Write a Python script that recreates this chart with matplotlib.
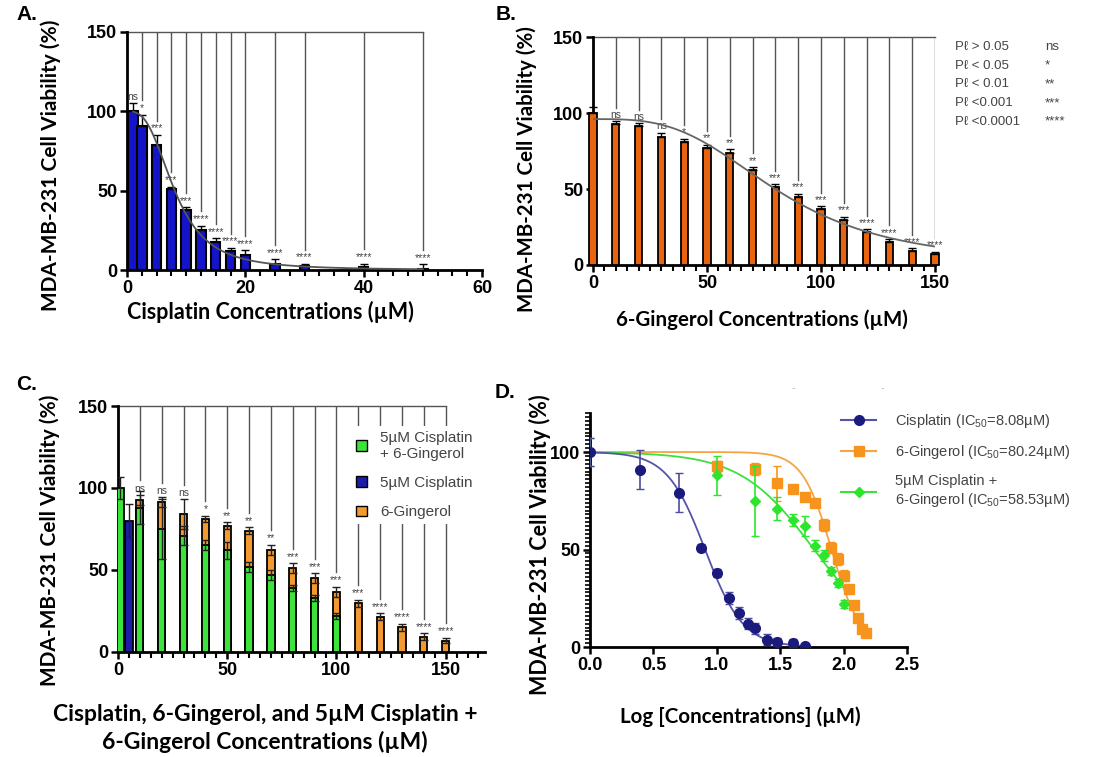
import numpy as np
import matplotlib.pyplot as plt
from matplotlib.patches import Patch
from matplotlib.lines import Line2D
from matplotlib.ticker import MultipleLocator, FormatStrFormatter

plt.rcParams['font.family'] = ['Liberation Sans', 'DejaVu Sans']
plt.rcParams['mathtext.default'] = 'regular'

# ---- data ----
# A: cisplatin
conc_cis = [1, 2.5, 5, 7.5, 10, 12.5, 15, 17.5, 20, 25, 30, 40, 50]
via_cis = [100, 91, 79, 51, 38, 25, 17.5, 12, 9.5, 3.8, 2.7, 2, 0.5]
err_cis_bar = [5, 7, 6, 1.5, 1.5, 3, 2.5, 2, 3, 3, 1, 2, 3]
err_cis_log = [7, 10, 10, 2, 2, 3, 3, 3, 3, 3, 2, 2, 1]
sig_cis = ['ns', '*', '***', '***', '***', '****', '****', '****', '****',
           '****', '****', '****', '****']

# B: 6-gingerol
conc_ging = [0, 10, 20, 30, 40, 50, 60, 70, 80, 90, 100, 110, 120, 130, 140, 150]
via_ging = [100, 92.6, 91.3, 84, 81, 77, 74, 62.4, 51, 45, 36.6, 29.6, 21.5, 15, 9.4, 7]
err_ging_bar = [4, 2, 2, 3, 2, 2, 2, 2, 2, 2, 2, 2, 2, 2, 1.5, 1.5]
err_ging_log = [3, 3, 3, 9, 2, 2, 2, 3, 3, 3, 3, 2, 2, 2, 2, 1.5]
sig_ging = ['', 'ns', 'ns', 'ns', '*', '**', '**', '**', '***', '***', '***',
            '***', '****', '****', '****', '****']

# C: 5 uM cisplatin + 6-gingerol
conc_comb = [1, 10, 20, 30, 40, 50, 60, 70, 80, 90, 100]
via_comb = [100, 88, 75, 71, 65, 62, 52, 47, 39, 33, 22]
err_comb = [7, 10, 18, 6, 3, 5, 3, 3, 2, 2, 2]
conc_cis5 = 5
via_cis5 = 80
err_cis5 = 10

# fit parameters (top, bottom, IC50, hill slope)
fit_cis = (100, 0, 8.08, 2.9)
fit_ging_lin = (96, 0, 82, 3.2)
fit_ging = (100, 0, 80.24, 3.8)
fit_comb = (100, 0, 58.53, 1.5)

pvals = ['P\u2113 > 0.05', 'P\u2113 < 0.05', 'P\u2113 < 0.01', 'P\u2113 <0.001', 'P\u2113 <0.0001']
pstars = ['ns', '*', '**', '***', '****']


def hill(x, p):
    top, bottom, ic50, h = p
    return bottom + (top - bottom) / (1 + (np.asarray(x) / ic50) ** h)


W, H = 1102, 757
fig = plt.figure(figsize=(W / 100, H / 100), dpi=100)


def box(x0, x1, yb, yt):
    return [x0 / W, 1 - yb / H, (x1 - x0) / W, (yb - yt) / H]


def lab_font(size=15):
    return dict(family=['Lato', 'DejaVu Sans'], fontweight='bold', fontsize=size)


def style(ax):
    for s in ['top', 'right']:
        ax.spines[s].set_visible(False)
    for s in ['left', 'bottom']:
        ax.spines[s].set_linewidth(2)
    ax.tick_params(which='major', length=5, width=1.8, labelsize=13, pad=2)
    ax.tick_params(which='minor', length=4, width=1.5)
    for lab in ax.get_xticklabels() + ax.get_yticklabels():
        lab.set_fontweight('bold')


def brackets(ax, xs, tops, labels, x_end, skip_first=False, fs=7.5):
    ax.plot([0, x_end], [150, 150], color='#555', lw=1, clip_on=False, zorder=1)
    for i, (x, t, lab) in enumerate(zip(xs, tops, labels)):
        if not lab:
            continue
        ax.text(x, t + 1, lab, ha='center', va='bottom', fontsize=fs, color='#444')
        if skip_first and i == 0:
            continue
        ax.plot([x, x], [t + 9, 150], color='#555', lw=1, zorder=1)


# ---------------- A ----------------
ax1 = fig.add_axes(box(127, 482, 270, 32))
ax1.bar(conc_cis, via_cis, width=1.6, color='#1414C8', edgecolor='black', lw=1.5, zorder=3)
ax1.errorbar(conc_cis, via_cis, yerr=[np.zeros(len(err_cis_bar)), err_cis_bar], fmt='none',
             ecolor='black', elinewidth=1, capsize=3, zorder=4)
xa = np.linspace(1, 50, 300)
ax1.plot(xa, hill(xa, fit_cis), color='#555', lw=1.3, zorder=5)
brackets(ax1, conc_cis, np.array(via_cis) + np.array(err_cis_bar), sig_cis, 50, skip_first=True)
ax1.set_xlim(0, 60)
ax1.set_ylim(0, 150)
ax1.set_xticks([0, 20, 40, 60])
ax1.set_yticks([0, 50, 100, 150])
ax1.xaxis.set_minor_locator(MultipleLocator(2.5))
style(ax1)
ax1.set_ylabel('MDA-MB-231 Cell Viability (%)', va='center', **lab_font())
ax1.yaxis.set_label_coords(-0.215, 0.44)
ax1.set_xlabel('Cisplatin Concentrations (\u00b5M)', va='center', **lab_font(15.5))
ax1.xaxis.set_label_coords(0.405, -0.175)

# ---------------- B ----------------
ax2 = fig.add_axes(box(593, 935, 265, 37))
ax2.bar(conc_ging, via_ging, width=3.2, color='#E8640E', edgecolor='black', lw=1.3, zorder=3,
        clip_on=False)
ax2.errorbar(conc_ging, via_ging, yerr=[np.zeros(len(err_ging_bar)), err_ging_bar], fmt='none',
             ecolor='black', elinewidth=1, capsize=3, zorder=4, clip_on=False)
xb = np.linspace(0, 150, 300)
ax2.plot(xb, hill(xb, fit_ging_lin), color='#666', lw=1.3, zorder=5)
brackets(ax2, conc_ging, np.array(via_ging) + np.array(err_ging_bar), sig_ging, 150)
ax2.set_xlim(0, 150)
ax2.set_ylim(0, 150)
ax2.set_xticks([0, 50, 100, 150])
ax2.set_yticks([0, 50, 100, 150])
ax2.xaxis.set_minor_locator(MultipleLocator(5))
style(ax2)
ax2.set_ylabel('MDA-MB-231 Cell Viability (%)', va='center', **lab_font(14.8))
ax2.yaxis.set_label_coords(-0.193, 0.42)
ax2.set_xlabel('6-Gingerol Concentrations (\u00b5M)', va='center', **lab_font(14.8))
ax2.xaxis.set_label_coords(0.494, -0.24)

for i, (pv, ps) in enumerate(zip(pvals, pstars)):
    y = 1 - (47 + i * 18.7) / H
    fig.text(955 / W, y, pv, fontsize=9.5, color='#444', va='center')
    fig.text(1045 / W, y, ps, fontsize=9.5, color='#444', va='center')

# ---------------- C ----------------
ax3 = fig.add_axes(box(118, 485, 652, 406))
ax3.bar(conc_ging[1:], via_ging[1:], width=3.3, color='#F29A30', edgecolor='black', lw=1.3, zorder=3)
ax3.errorbar(conc_ging[1:], via_ging[1:], yerr=err_ging_log[1:], fmt='none',
             ecolor='#222', elinewidth=1, capsize=3, zorder=4)
ax3.bar(conc_comb, via_comb, width=3.3, color='#3BE33B', edgecolor='black', lw=1.3, zorder=5)
ax3.errorbar(conc_comb, via_comb, yerr=err_comb, fmt='none',
             ecolor='#222', elinewidth=1, capsize=3, zorder=6)
ax3.bar([conc_cis5], [via_cis5], width=3.3, color='#1C1CA8', edgecolor='black', lw=1.3, zorder=5)
ax3.errorbar([conc_cis5], [via_cis5], yerr=[err_cis5], fmt='none',
             ecolor='#222', elinewidth=1, capsize=3, zorder=6)
tops_c = np.array(via_ging[1:]) + np.array(err_ging_log[1:])
brackets(ax3, conc_ging[1:], tops_c, sig_ging[1:], 150)
ax3.set_xlim(0, 168)
ax3.set_ylim(0, 150)
ax3.set_xticks([0, 50, 100, 150])
ax3.set_yticks([0, 50, 100, 150])
ax3.xaxis.set_minor_locator(MultipleLocator(5))
style(ax3)
ax3.set_ylabel('MDA-MB-231 Cell Viability (%)', va='center', **lab_font())
ax3.yaxis.set_label_coords(-0.185, 0.455)
ax3.set_xlabel('Cisplatin, 6-Gingerol, and 5\u00b5M Cisplatin +\n6-Gingerol Concentrations (\u00b5M)',
               va='center', linespacing=1.35, **lab_font(16.5))
ax3.xaxis.set_label_coords(0.40, -0.31)
handles_c = [Patch(facecolor='#3BE33B', edgecolor='black'),
             Patch(facecolor='#1C1CA8', edgecolor='black'),
             Patch(facecolor='#F29A30', edgecolor='black')]
leg_c = ax3.legend(handles_c, ['5\u00b5M Cisplatin\n+ 6-Gingerol', '5\u00b5M Cisplatin', '6-Gingerol'],
                   loc='upper left', bbox_to_anchor=(0.615, 0.95), fontsize=11, labelcolor='#444',
                   handlelength=0.7, handleheight=0.7, handletextpad=0.9, labelspacing=1.0,
                   frameon=True, edgecolor='none', facecolor='white', framealpha=1,
                   borderpad=0.3, fancybox=False)
leg_c.set_zorder(10)

# ---------------- D ----------------
ax4 = fig.add_axes(box(590, 907, 647, 413))
log_cis = np.log10(conc_cis)
log_ging = np.log10(conc_ging[1:])
log_comb = np.log10(conc_comb)

lc = np.linspace(0, np.log10(50), 300)
lg = np.linspace(0, np.log10(150), 300)
lm = np.linspace(0, 2.0, 300)
ax4.plot(lg, hill(10 ** lg, fit_ging), color='#F7A444', lw=1.3, zorder=2)
ax4.plot(lm, hill(10 ** lm, fit_comb), color='#3EE03E', lw=1.3, zorder=2)
ax4.plot(lc, hill(10 ** lc, fit_cis), color='#5555A8', lw=1.3, zorder=2)

ax4.errorbar(log_ging, via_ging[1:], yerr=err_ging_log[1:], fmt='s', color='#F7941D', ms=7.5,
             ecolor='#F7941D', elinewidth=1.2, capsize=3, zorder=3)
ax4.errorbar(log_comb, via_comb, yerr=err_comb, fmt='D', color='#2DE52D', ms=5,
             ecolor='#2DE52D', elinewidth=1.2, capsize=3, zorder=4)
ax4.errorbar(log_cis, via_cis, yerr=err_cis_log, fmt='o', color='#1B1B7E', ms=7,
             ecolor='#4B4BA0', elinewidth=1.2, capsize=3, zorder=5)
ax4.set_xlim(0, 2.5)
ax4.set_ylim(0, 120)
ax4.set_xticks([0, 0.5, 1.0, 1.5, 2.0, 2.5])
ax4.xaxis.set_major_formatter(FormatStrFormatter('%.1f'))
ax4.set_yticks([0, 50, 100])
ax4.yaxis.set_minor_locator(MultipleLocator(2))
style(ax4)
ax4.tick_params(which='minor', length=3.5, width=1.2)
ax4.set_ylabel('MDA-MB-231 Cell Viability (%)', va='center', **lab_font(15.5))
ax4.yaxis.set_label_coords(-0.158, 0.436)
ax4.set_xlabel('Log [Concentrations] (\u00b5M)', va='center', **lab_font(14.8))
ax4.xaxis.set_label_coords(0.473, -0.30)

handles_d = [Line2D([], [], color='#5555A8', marker='o', mfc='#1B1B7E', mec='#1B1B7E', ms=7),
             Line2D([], [], color='#F7A444', marker='s', mfc='#F7941D', mec='#F7941D', ms=7),
             Line2D([], [], color='#3EE03E', marker='D', mfc='#2DE52D', mec='#2DE52D', ms=5)]
fig.legend(handles_d, ['Cisplatin (IC$_{50}$=8.08\u00b5M)', '6-Gingerol (IC$_{50}$=80.24\u00b5M)',
                       '5\u00b5M Cisplatin +\n6-Gingerol (IC$_{50}$=58.53\u00b5M)'],
           loc='upper left', bbox_to_anchor=(828 / W, 1 - 399 / H), fontsize=10.5, labelcolor='#444',
           handlelength=2.4, handletextpad=1.3, labelspacing=0.9, frameon=False)

fig.text(793 / W, 1 - 388 / H, '-', color='#bbb', fontsize=8, ha='center', va='center')
fig.text(882 / W, 1 - 388 / H, '-', color='#bbb', fontsize=8, ha='center', va='center')

# panel letters
for txt, px, py in [('A.', 27, 15), ('B.', 506, 14), ('C.', 27, 385), ('D.', 505, 392)]:
    fig.text(px / W, 1 - py / H, txt, fontsize=15, fontweight='bold', ha='center', va='center')

fig.savefig('out.png', dpi=100)
